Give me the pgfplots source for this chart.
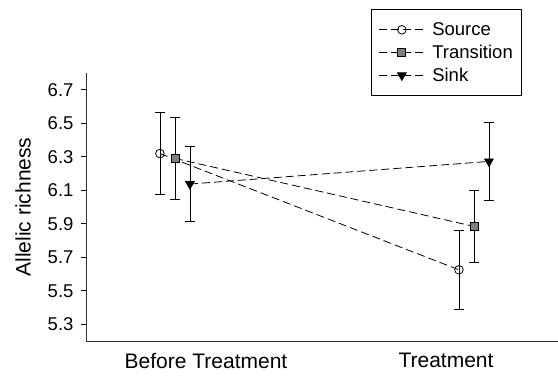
\documentclass[border=0pt]{standalone}
\usepackage{fontspec}
\setmainfont{Liberation Sans}
\usepackage{pgfplots}
\usepackage{pgfplotstable}
\pgfplotsset{compat=1.18}

% allelic richness: mean and error, categories at 0 (before) and 1 (treatment)
\pgfplotstableread{
x      y      e
-0.192 6.319  0.244
1.054  5.625  0.235
}\sourcedata
\pgfplotstableread{
x      y      e
-0.129 6.290  0.242
1.117  5.884  0.217
}\transitiondata
\pgfplotstableread{
x      y      e
-0.067 6.137  0.222
1.179  6.272  0.235
}\sinkdata

\definecolor{markgray}{RGB}{128,128,128}

\begin{document}
\begin{tikzpicture}[x=1pt,y=1pt]
\path[use as bounding box] (-86,-36) rectangle (472,341);
\begin{axis}[
  at={(0,0)}, anchor=south west,
  scale only axis, width=472pt, height=268pt,
  xmin=-0.5, xmax=1.4667, ymin=5.2, ymax=6.8,
  axis x line*=bottom, axis y line*=left,
  axis line style={line width=0.9pt, black!80},
  tick align=outside,
  major tick length=5pt, minor tick length=10pt,
  ytick={5.3,5.5,5.7,5.9,6.1,6.3,6.5,6.7},
  yticklabel style={font=\fontsize{18.5}{20}\selectfont, xshift=-4pt,
    /pgf/number format/.cd, fixed, precision=1, fixed zerofill, assume math mode=true},
  ytick style={line width=0.8pt, black},
  xtick=\empty, minor xtick={0.5},
  xtick style={line width=0.8pt, black},
  extra x ticks={0,1},
  extra x tick labels={Before Treatment, Treatment},
  extra x tick style={major tick length=0pt,
    tick label style={font=\fontsize{21}{23}\selectfont, yshift=-9pt}},
  ylabel={Allelic richness},
  ylabel style={font=\fontsize{21}{23}\selectfont, yshift=10pt},
  legend style={at={(0.604,1.238)}, anchor=north west, draw=black, line width=0.8pt,
    font=\fontsize{18.5}{20}\selectfont, inner xsep=7pt, inner ysep=11pt,
    row sep=4pt, cells={anchor=west},
    /tikz/every odd column/.append style={column sep=5pt}},
  legend cell align=left,
  legend image code/.code={
    \draw[mark repeat=2, mark phase=2] plot coordinates {(0pt,0pt) (23pt,0pt) (46pt,0pt)};
  },
  every axis plot/.append style={black, line width=0.8pt, dash pattern=on 8pt off 4pt},
  error bars/y dir=both, error bars/y explicit,
  error bars/error bar style={solid, line width=0.8pt, black},
  error bars/error mark options={rotate=90, mark size=5pt, solid, line width=0.8pt},
]
\addplot[mark=o, mark options={solid, fill=white, line width=0.8pt}, mark size=4.3pt]
  table[x=x, y=y, y error=e] {\sourcedata};
\addlegendentry{Source}
\addplot[mark=square*, mark options={solid, fill=markgray, line width=0.8pt}, mark size=4pt]
  table[x=x, y=y, y error=e] {\transitiondata};
\addlegendentry{Transition\hspace{6pt}}
\addplot[mark=triangle*, mark options={solid, fill=black, rotate=180}, mark size=5pt]
  table[x=x, y=y, y error=e] {\sinkdata};
\addlegendentry{Sink}
\end{axis}
\end{tikzpicture}
\end{document}
